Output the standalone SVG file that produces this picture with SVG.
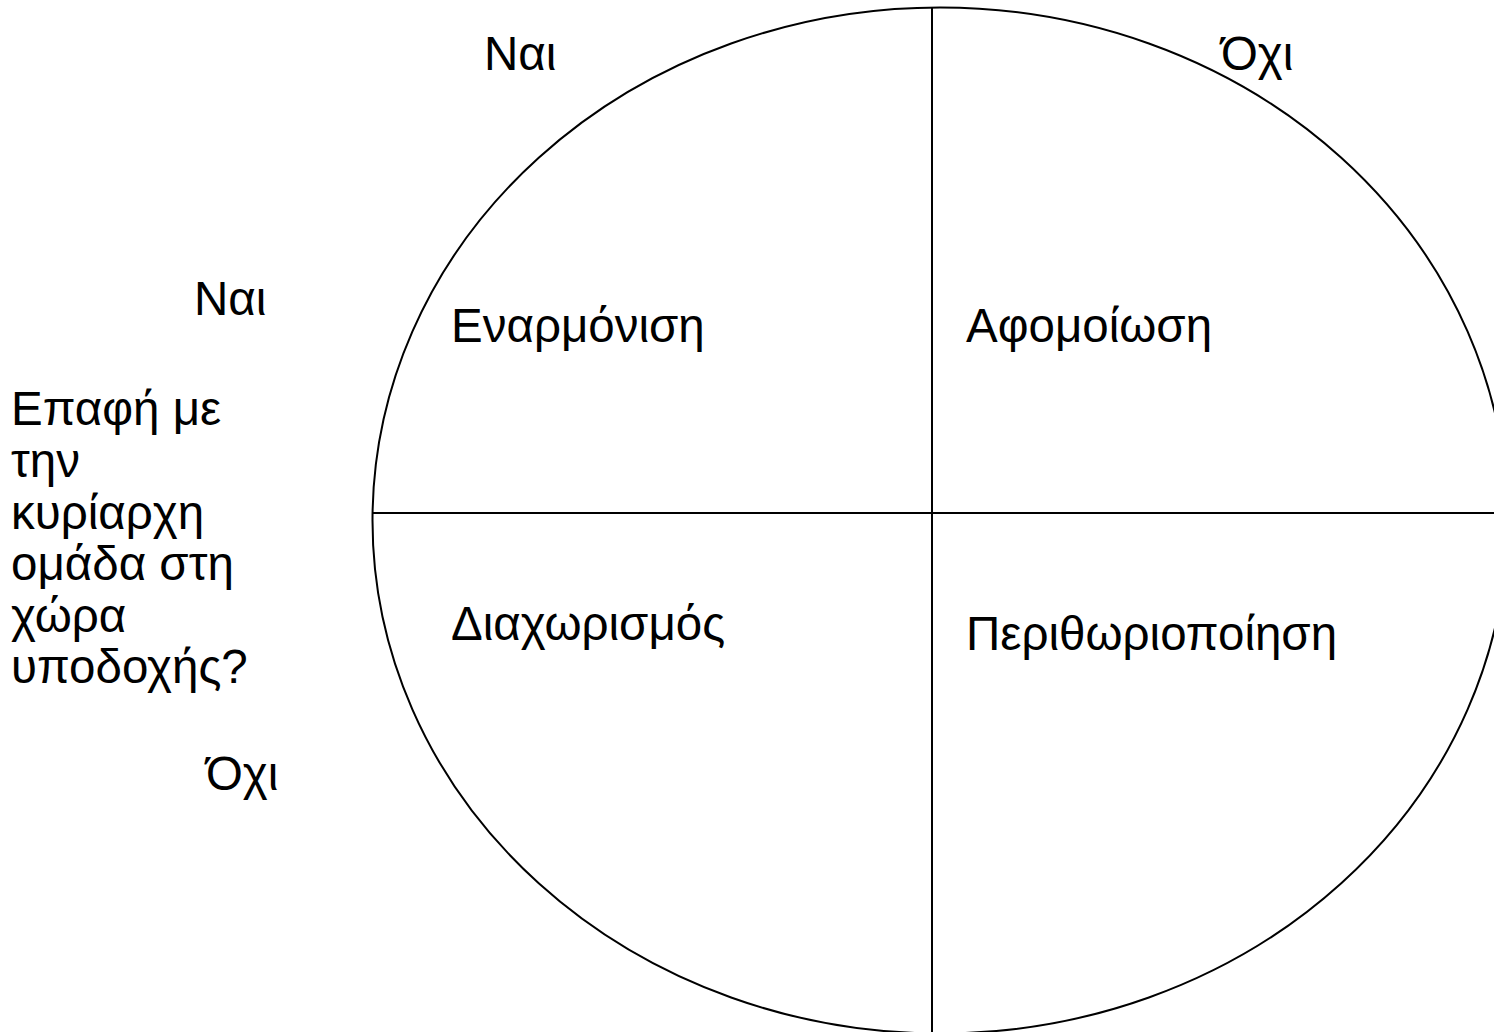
<svg xmlns="http://www.w3.org/2000/svg" width="1494" height="1032" viewBox="0 0 1494 1032">
<style>
  .ln { fill: none; stroke: #000; stroke-width: 2; }
  .t { font-family: "Liberation Sans", Arial, sans-serif; font-size: 47.5px; fill: #000; }
</style>
<rect width="1494" height="1032" fill="#fff"/>
<g id="shapes">
  <ellipse id="circle" class="ln" cx="940" cy="520.5" rx="567.5" ry="513"/>
  <line id="vaxis" class="ln" x1="932" y1="7.5" x2="932" y2="1032"/>
  <line id="haxis" class="ln" x1="372" y1="513" x2="1494" y2="513"/>
</g>
<g id="labels">
  <text class="t" x="484" y="70">Ναι</text>
  <text class="t" x="1221" y="70">Όχι</text>
  <text class="t" x="194" y="315">Ναι</text>
  <text class="t" x="206" y="790">Όχι</text>
  <text class="t" x="11" y="425">Επαφή με</text>
  <text class="t" x="11" y="477">την</text>
  <text class="t" x="11" y="528.5">κυρίαρχη</text>
  <text class="t" x="11" y="580">ομάδα στη</text>
  <text class="t" x="11" y="631.5">χώρα</text>
  <text class="t" x="11" y="683">υποδοχής?</text>
</g>
<g id="quadrants">
  <text class="t" x="451" y="342">Εναρμόνιση</text>
  <text class="t" x="966" y="342">Αφομοίωση</text>
  <text class="t" x="451" y="640">Διαχωρισμός</text>
  <text class="t" x="966" y="650">Περιθωριοποίηση</text>
</g>
</svg>
